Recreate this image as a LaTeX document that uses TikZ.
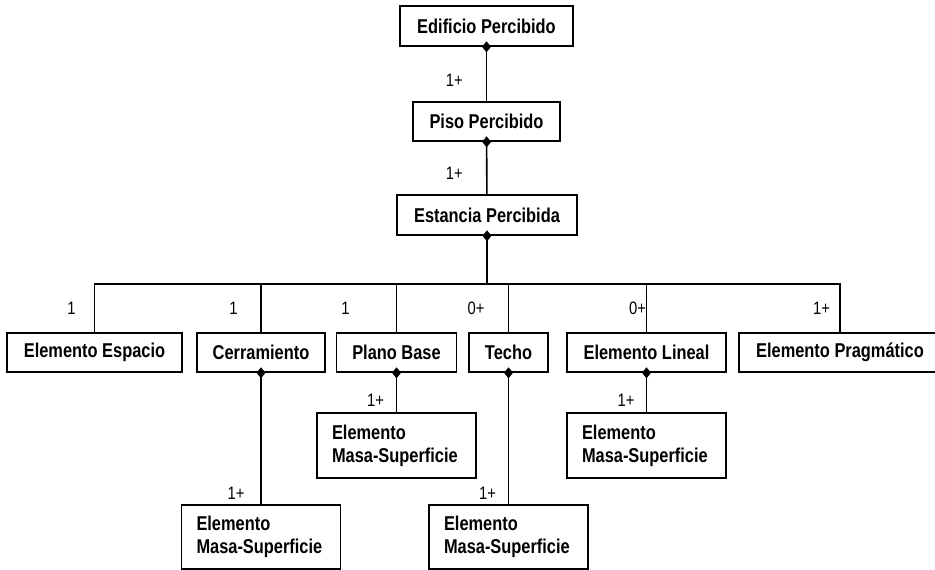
\documentclass[tikz,border=0pt]{standalone}
\usepackage{fontspec}
\setmainfont[FakeStretch=0.82]{Liberation Sans}
\usetikzlibrary{arrows.meta,positioning}

\begin{document}
\begin{tikzpicture}[x=1pt,y=-1pt,
  box/.style={draw,line width=1.6pt,minimum height=40pt,inner sep=0pt,
              font=\fontsize{20}{23}\selectfont\bfseries},
  subbox/.style={box,minimum height=65pt,text width=129pt,inner xsep=15pt,
              align=left},
  mult/.style={font=\fontsize{18}{20}\selectfont,inner sep=0pt},
  conn/.style={line width=1.6pt},
  agg/.style={conn,{Diamond[length=11pt,width=9pt]}-,shorten <=-5.5pt}]
  \useasboundingbox (0,0) rectangle (935,570);
  \clip (0,0) rectangle (935,570);
  \node[box,minimum width=173pt] (EP) at (486.5,26) {Edificio Percibido};
  \node[box,minimum width=147pt,minimum height=39pt] (PP) at (486.5,121.5) {Piso Percibido};
  \node[box,minimum width=180pt] (EsP) at (487,215) {Estancia Percibida};
  \coordinate (bus) at (487,284);
  \node[box,minimum width=175pt,minimum height=39pt] (EE) at (94.5,352.5) {Elemento Espacio};
  \node[box,minimum width=128pt,minimum height=39pt] (Cer) at (261,352.5) {Cerramiento};
  \node[box,minimum width=120pt,minimum height=39pt] (PB) at (396.5,352.5) {Plano Base};
  \node[box,minimum width=79pt,minimum height=39pt] (Te) at (508.5,352.5) {Techo};
  \node[box,minimum width=159pt,minimum height=39pt] (EL) at (646.5,352.5) {Elemento Lineal};
  \node[box,minimum width=202pt,minimum height=39pt] (EPr) at (840,352.5) {Elemento Pragm\'atico};
  \node[subbox] (PBm) at (396.5,445.5) {Elemento\\Masa-Superficie};
  \node[subbox] (ELm) at (646.5,445.5) {Elemento\\Masa-Superficie};
  \node[subbox,minimum height=64pt] (Cm) at (261,537) {Elemento\\Masa-Superficie};
  \node[subbox,minimum height=64pt] (Tm) at (508.5,537) {Elemento\\Masa-Superficie};
  \draw[agg](EP)--(PP);
  \draw[agg](PP)--(EsP);
  \draw[agg,line width=2.4pt](EsP)--(bus);
  \foreach \n in {EE,Cer,PB,Te,EL,EPr}
    \draw[conn](bus)-|(\n);
  \draw[agg](Cer)--(Cm);
  \draw[agg](PB)--(PBm);
  \draw[agg](Te)--(Tm);
  \draw[agg](EL)--(ELm);
  \node[mult,anchor=east] (m1) at (463,80) {1+};
  \node[mult,anchor=east] (m2) at (463,173) {1+};
  \node[mult] (mEE) at (71.5,308) {1};
  \node[mult] (mCer) at (233.5,308) {1};
  \node[mult] (mPB) at (345.5,308) {1};
  \node[mult] (mTe) at (476,308) {0+};
  \node[mult] (mEL) at (637.5,308) {0+};
  \node[mult] (mEPr) at (821.5,308) {1+};
  \node[mult] (mPBm) at (375.5,400) {1+};
  \node[mult] (mELm) at (626,400) {1+};
  \node[mult] (mCm) at (236,493) {1+};
  \node[mult] (mTm) at (487.5,493) {1+};
\end{tikzpicture}
\end{document}
